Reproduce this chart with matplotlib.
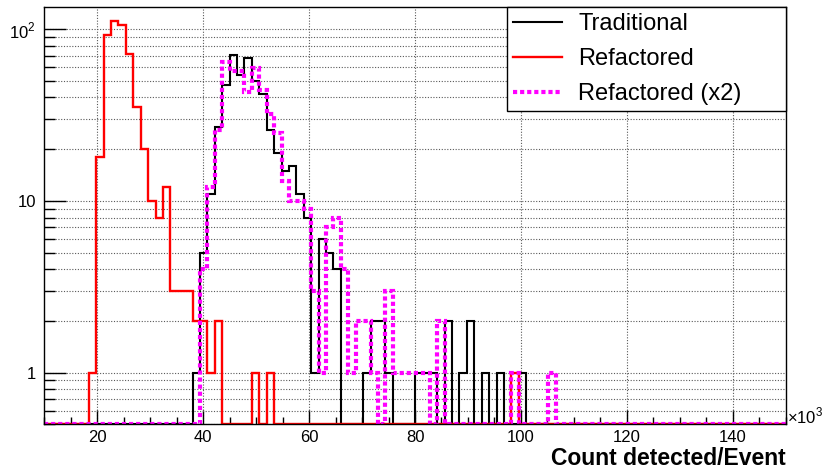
import numpy as np
import matplotlib
matplotlib.use("Agg")
import matplotlib.pyplot as plt
from matplotlib.ticker import FixedLocator, FixedFormatter, MultipleLocator, NullFormatter, LogLocator

plt.rcParams['font.family'] = ['Liberation Sans', 'DejaVu Sans']
plt.rcParams['mathtext.fontset'] = 'custom'
plt.rcParams['mathtext.rm'] = 'Liberation Sans'

# histogram binning: 100 bins from 10 to 150 (x10^3)
edges = np.linspace(10, 150, 101)

# non-empty bins (index) and counts
trad_bins = [20, 21, 22, 23, 24, 25, 26, 27, 28, 29, 30, 31, 32, 33, 34, 35, 36, 37, 38, 39,
             43, 44, 45, 46, 50, 51, 52, 54, 56, 57, 59, 61, 64]
trad_counts = [1, 5, 11, 27, 47, 71, 54, 68, 50, 42, 26, 19, 15, 16, 11, 8, 1, 6, 5, 4,
               1, 2, 2, 1, 1, 1, 1, 2, 1, 2, 1, 1, 1]

refac_bins = [6, 7, 8, 9, 10, 11, 12, 13, 14, 15, 16, 17, 18, 19, 20, 21, 22, 23, 28, 30, 63]
refac_counts = [1, 18, 92, 112, 105, 72, 35, 20, 10, 8, 12, 3, 3, 3, 2, 2, 1, 2, 1, 1, 1]

x2_bins = [21, 22, 23, 24, 25, 26, 27, 28, 29, 30, 31, 32, 33, 34, 35, 36, 37, 38, 39,
           40, 41, 42, 43, 44, 46, 47, 48, 49, 50, 51, 53, 63, 68]
x2_counts = [4, 12, 26, 64, 57, 57, 43, 59, 44, 32, 25, 13, 10, 10, 9, 3, 1, 7, 8,
             4, 1, 2, 2, 1, 3, 1, 1, 1, 1, 1, 2, 1, 1]

labels = ["Traditional", "Refactored", "Refactored (x2)"]


def full(bins, counts):
    h = np.zeros(len(edges) - 1)
    h[bins] = counts
    return h


ymin, ymax = 0.5, 134

fig = plt.figure(figsize=(8.22, 4.70), dpi=100)
ax = fig.add_axes([44.3 / 822, 45.7 / 470, 741.4 / 822, 417 / 470])

series = [
    (full(trad_bins, trad_counts), dict(color="black", lw=1.5)),
    (full(refac_bins, refac_counts), dict(color="#ff0000", lw=1.7)),
    (full(x2_bins, x2_counts), dict(color="#ff00ff", lw=3.0, linestyle=(0, (1, 0.7)))),
]
handles = []
for (h, st), lab in zip(series, labels):
    hp = np.where(h > 0, h, ymin)
    s = ax.stairs(hp, edges, baseline=None, label=lab, **st)
    handles.append(s)

ax.set_yscale("log")
ax.set_xlim(10, 150)
ax.set_ylim(ymin, ymax)

ax.xaxis.set_major_locator(MultipleLocator(20))
ax.xaxis.set_minor_locator(MultipleLocator(5))
ax.yaxis.set_major_locator(FixedLocator([1, 10, 100]))
ax.yaxis.set_major_formatter(FixedFormatter(["1", "10", r"$10^{2}$"]))
ax.yaxis.set_minor_locator(LogLocator(base=10, subs=np.arange(2, 10)))
ax.yaxis.set_minor_formatter(NullFormatter())

ax.grid(True, which="major", axis="x", color="0.35", lw=0.8, linestyle=(0, (1, 1.5)))
ax.grid(True, which="both", axis="y", color="0.35", lw=0.8, linestyle=(0, (1, 1.5)))
ax.set_axisbelow(True)

ax.tick_params(axis="x", which="major", direction="in", length=10, width=1, labelsize=12, pad=4)
ax.tick_params(axis="x", which="minor", direction="in", length=5, width=1)
ax.tick_params(axis="y", which="major", direction="in", length=16, width=1, labelsize=12, pad=6)
ax.tick_params(axis="y", which="minor", direction="in", length=8, width=1)
for sp in ax.spines.values():
    sp.set_linewidth(1.0)

leg = ax.legend(handles=handles, loc="upper left", bbox_to_anchor=(0.624, 0.0, 0.376, 1.0),
                mode="expand", borderaxespad=0, fontsize=17, frameon=True, fancybox=False,
                edgecolor="black", framealpha=1, handlelength=2.1, handletextpad=0.67,
                labelspacing=0.55, borderpad=0.25)
leg.get_frame().set_linewidth(1.0)

fig.text(787 / 822, 44 / 470, r"$\times$10$^{3}$", fontsize=12, ha="left", va="bottom")
fig.text(786 / 822, 5 / 470, "Count detected/Event", fontsize=16.5, weight="bold",
         ha="right", va="baseline")

fig.savefig("out.png", dpi=100)
